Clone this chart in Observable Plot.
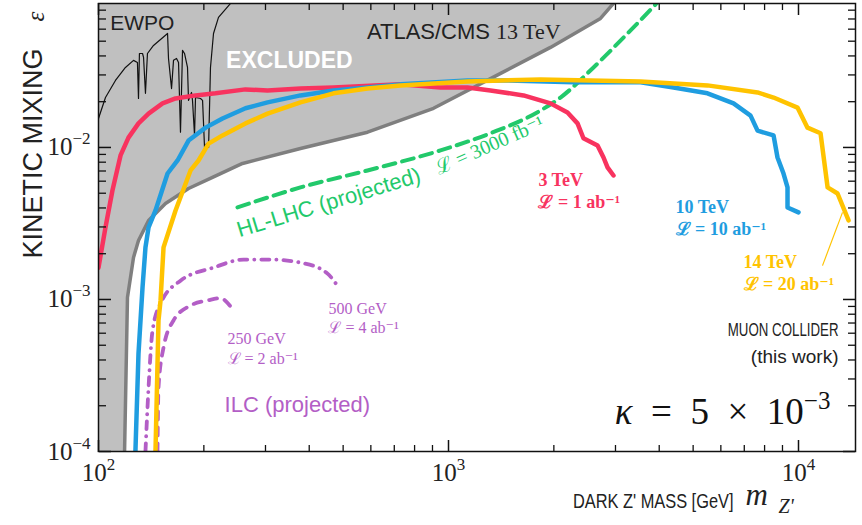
<!DOCTYPE html>
<html><head><meta charset="utf-8">
<script src="https://cdn.jsdelivr.net/npm/d3@7"></script>
<script src="https://cdn.jsdelivr.net/npm/@observablehq/plot@0.6"></script>
<style>body{margin:0;background:#fff} svg{display:block}</style>
</head><body><div id="chart"></div>
<script>
// ---- data (mass in GeV, kinetic mixing epsilon) ----
const xMajorTicks = [100, 1000, 10000];
const xMinorTicks = [200,300,400,500,600,700,800,900,2000,3000,4000,5000,6000,7000,8000,9000];
const yMajorTicks = [1e-4, 1e-3, 1e-2];
const yMinorTicks = [2e-4,3e-4,4e-4,5e-4,6e-4,7e-4,8e-4,9e-4,2e-3,3e-3,4e-3,5e-3,6e-3,7e-3,8e-3,9e-3,2e-2,3e-2,4e-2,5e-2,6e-2,7e-2,8e-2];

const excludedMass = [100, 118.7, 121.0, 125.9, 130.1, 139.0, 155.4, 180.8, 211.7, 257.9, 377.6, 587.0, 906.2, 1409, 1956, 2718, 2961];
const excludedEps  = [1e-4, 1e-4, 0.00103, 0.00189, 0.00244, 0.00331, 0.00428, 0.00537, 0.00635, 0.00785, 0.00985, 0.0126, 0.0181, 0.0307, 0.0455, 0.0706, 0.0886];

const ewpoMass = [100,104.7,111.8,119.4,125.9,129.2,130.1,130.9,133.6,134.5,136.2,138.0,143.6,157.5,158.5,161.7,163.8,167.1,169.3,171.5,173.8,176.1,179.6,180.8,184.4,185.6,188.1,189.3,195.6,198.3,200.9,203.6,206.3,208.9,213.1,220.2,238.4];
const ewpoEps  = [0.0155,0.0213,0.0276,0.0336,0.0374,0.0362,0.0210,0.0415,0.0415,0.0391,0.0227,0.0415,0.0469,0.0562,0.0385,0.0244,0.0374,0.0385,0.0362,0.0126,0.0435,0.0415,0.0336,0.0204,0.0230,0.0204,0.0120,0.0213,0.0210,0.0204,0.0100,0.0106,0.0100,0.0336,0.0562,0.0717,0.0886];

const mu3Mass = [100,104.7,109.6,115.6,121.8,130.1,139.0,152.4,166.0,189.3,215.9,263.0,304.1,377.6,469.4,729.4,948.7,1133,1318,1638,1956,2188,2337,2430,2666,2773,2847,2961];
const mu3Eps  = [0.00162,0.00298,0.00521,0.00886,0.0116,0.0144,0.0167,0.0195,0.0210,0.0220,0.0227,0.0241,0.0237,0.0244,0.0248,0.0260,0.0248,0.0248,0.0237,0.0220,0.0195,0.0170,0.0144,0.0115,0.0103,0.00859,0.00739,0.00654];

const mu10Mass = [127.5,130.1,133.6,136.2,139.0,145.5,157.5,168.2,180.8,202.3,226.1,263.0,304.1,377.6,469.4,587.0,729.4,1133,1474,2276,3538,4395,5495,6522,7294,7638,8486,8710,9061,9303,9303,10000];
const mu10Eps  = [1e-4,0.000441,0.00120,0.00220,0.00298,0.00385,0.00674,0.00821,0.0111,0.0135,0.0155,0.0181,0.0198,0.0220,0.0237,0.0248,0.0260,0.0276,0.0276,0.0268,0.0268,0.0248,0.0227,0.0195,0.0162,0.0129,0.0120,0.00859,0.00674,0.00546,0.00403,0.00374];

const mu14Mass = [145.5,148.4,150.4,153.4,166.0,183.2,193.1,206.3,226.1,263.0,304.1,377.6,469.4,587.0,729.4,1133,1832,3538,5495,7638,8486,9934,10610,11560,12110,12930,13900];
const mu14Eps  = [1e-4,0.000728,0.000985,0.00220,0.00385,0.00706,0.00821,0.0106,0.0120,0.0144,0.0167,0.0198,0.0227,0.0244,0.0256,0.0272,0.0280,0.0272,0.0256,0.0230,0.0213,0.0183,0.0135,0.0124,0.00546,0.00498,0.00331];

const hllhcMass = [249.5,377.6,587.0,948.7,1318,1832,2089,2596,3247,3929];
const hllhcEps  = [0.00403,0.00546,0.00706,0.00956,0.0124,0.0175,0.0213,0.0336,0.0562,0.0886];

const ilc500Mass = [136.2,139.0,142.7,150.4,171.5,213.1,259.6,310.1,385.2,451.2,485.1];
const ilc500Eps  = [1e-4,0.000264,0.000625,0.000941,0.00133,0.00162,0.00183,0.00183,0.00173,0.00148,0.00120];

const ilc250Mass = [147.4,148.4,153.4,163.8,183.2,204.9,223.1,238.4];
const ilc250Eps  = [1e-4,0.000264,0.000483,0.000728,0.000913,0.000985,0.00102,0.000899];

// ---- helpers ----
const rows = (xs, ys) => xs.map((x, i) => ({x, y: ys[i]}));
const yTop = 0.0885;
const SERIF = "'Liberation Serif','DejaVu Serif',serif";
const SANS = "'Liberation Sans',Helvetica,Arial,sans-serif";
const RED = "#f8335f", BLUE = "#1f9de0", YEL = "#ffc300", GRN = "#22c96b", PUR = "#b35ec6";
const note = (text, x, y, o = {}) => Plot.text([{text, x, y}], {x: "x", y: "y", text: "text", ...o});
const sup = (e) => "10^" + Math.round(Math.log10(e));
const bold = {textAnchor: "start", fontSize: 18, fontWeight: "bold", fontFamily: SERIF};
const ilcT = {textAnchor: "start", fontSize: 16, fontFamily: SERIF, fill: PUR};

const chart = Plot.plot({
  width: 862, height: 525,
  marginLeft: 98, marginRight: 7, marginTop: 3, marginBottom: 74,
  x: {type: "log", domain: [100, 14550]},
  y: {type: "log", domain: [1e-4, yTop]},
  style: {background: "white", color: "#111"},
  marks: [
    Plot.areaY(rows(excludedMass, excludedEps), {x: "x", y1: "y", y2: yTop, fill: "#c0c0c0", clip: true}),
    Plot.line(rows(excludedMass, excludedEps).slice(1), {x: "x", y: "y", stroke: "#7f7f7f", strokeWidth: 3.5, clip: true}),
    Plot.line(rows(ewpoMass, ewpoEps), {x: "x", y: "y", stroke: "#111", strokeWidth: 1.2, clip: true}),
    note("EWPO", 108, 0.066, {textAnchor: "start", fontSize: 21, fontFamily: SANS, fill: "#222"}),
    note("EXCLUDED", 351, 0.0373, {fontSize: 23, fontWeight: "bold", fontFamily: SANS, fill: "white"}),
    note("ATLAS/CMS", 1340, 0.0572, {textAnchor: "end", dx: -3, fontSize: 22, fontFamily: SANS, fill: "#222"}),
    note("13 TeV", 1340, 0.0572, {textAnchor: "start", dx: 3, fontSize: 22, fontFamily: SERIF, fill: "#222"}),

    Plot.line(rows(hllhcMass, hllhcEps), {x: "x", y: "y", stroke: GRN, strokeWidth: 4, strokeDasharray: "12,7", curve: "monotone-x", clip: true}),
    note("HL-LHC (projected)", 249.5, 0.00284, {textAnchor: "start", rotate: -17, fontSize: 22, fontFamily: SANS, fill: GRN}),
    note("ℒ = 3000 fb⁻¹", 924, 0.0072, {textAnchor: "start", rotate: -24, fontSize: 20, fontFamily: SERIF, fill: GRN}),

    Plot.line(rows(ilc500Mass, ilc500Eps), {x: "x", y: "y", stroke: PUR, strokeWidth: 3.8, strokeDasharray: "8,7,0.1,7", strokeLinecap: "round", curve: "monotone-x", clip: true}),
    Plot.line(rows(ilc250Mass, ilc250Eps), {x: "x", y: "y", stroke: PUR, strokeWidth: 3.8, strokeDasharray: "8,8", strokeLinecap: "round", curve: "monotone-x", clip: true}),
    note("500 GeV", 454, 0.000870, ilcT),
    note("ℒ = 4 ab⁻¹", 454, 0.000654, ilcT),
    note("250 GeV", 233.7, 0.000553, ilcT),
    note("ℒ = 2 ab⁻¹", 233.7, 0.000409, ilcT),
    note("ILC (projected)", 229.2, 0.000201, {textAnchor: "start", fontSize: 22, fontFamily: SANS, fill: PUR}),

    Plot.line(rows(mu3Mass, mu3Eps), {x: "x", y: "y", stroke: RED, strokeWidth: 4.5, strokeLinejoin: "round", clip: true}),
    Plot.line(rows(mu10Mass, mu10Eps), {x: "x", y: "y", stroke: BLUE, strokeWidth: 4.5, strokeLinejoin: "round", clip: true}),
    Plot.line(rows(mu14Mass, mu14Eps), {x: "x", y: "y", stroke: YEL, strokeWidth: 4.5, strokeLinejoin: "round", clip: true}),
    Plot.link([{x1: 11710, y1: 0.00167, x2: 13360, y2: 0.00374}], {x1: "x1", y1: "y1", x2: "x2", y2: "y2", stroke: YEL, strokeWidth: 1.2}),

    note("3 TeV", 1807, 0.00607, {...bold, fill: RED}),
    note("ℒ = 1 ab⁻¹", 1807, 0.00435, {...bold, fill: RED}),
    note("10 TeV", 4453, 0.00403, {...bold, fill: BLUE}),
    note("ℒ = 10 ab⁻¹", 4453, 0.00289, {...bold, fill: BLUE}),
    note("14 TeV", 6966, 0.00175, {...bold, fill: YEL}),
    note("ℒ = 20 ab⁻¹", 6966, 0.001256, {...bold, fill: YEL}),

    note("MUON COLLIDER", 13010, 0.000630, {textAnchor: "end", fontSize: 19, fontFamily: SANS, fill: "#222"}),
    note("(this work)", 13010, 0.000420, {textAnchor: "end", fontSize: 19, fontFamily: SANS, fill: "#222"}),
    note("κ = 5 × 10^−3", 12340, 0.000181, {textAnchor: "end", fontSize: 37, fontFamily: SERIF, fill: "#111"}),

    // frame and inward ticks on all four sides
    Plot.frame({stroke: "#111", strokeWidth: 1.5}),
    Plot.axisX({anchor: "top", frameAnchor: "bottom", ticks: xMajorTicks, tickSize: 12, tickFormat: () => "", label: null, strokeWidth: 1.5}),
    Plot.axisX({anchor: "top", frameAnchor: "bottom", ticks: xMinorTicks, tickSize: 7, tickFormat: () => "", label: null, strokeWidth: 1.3}),
    Plot.axisX({anchor: "bottom", frameAnchor: "top", ticks: xMajorTicks, tickSize: 12, tickFormat: () => "", label: null, strokeWidth: 1.5}),
    Plot.axisX({anchor: "bottom", frameAnchor: "top", ticks: xMinorTicks, tickSize: 7, tickFormat: () => "", label: null, strokeWidth: 1.3}),
    Plot.axisY({anchor: "right", frameAnchor: "left", ticks: yMajorTicks, tickSize: 12, tickFormat: () => "", label: null, strokeWidth: 1.5}),
    Plot.axisY({anchor: "right", frameAnchor: "left", ticks: yMinorTicks, tickSize: 7, tickFormat: () => "", label: null, strokeWidth: 1.3}),
    Plot.axisY({anchor: "left", frameAnchor: "right", ticks: yMajorTicks, tickSize: 12, tickFormat: () => "", label: null, strokeWidth: 1.5}),
    Plot.axisY({anchor: "left", frameAnchor: "right", ticks: yMinorTicks, tickSize: 7, tickFormat: () => "", label: null, strokeWidth: 1.3}),
    // tick labels
    Plot.axisX({anchor: "bottom", ticks: xMajorTicks, tickSize: 0, tickPadding: 12, tickFormat: sup, label: null, fontSize: 25, fontFamily: SERIF, fill: "#222"}),
    Plot.axisY({anchor: "left", ticks: yMajorTicks, tickSize: 0, tickPadding: 8, tickFormat: sup, label: null, fontSize: 25, fontFamily: SERIF, fill: "#222"}),
    // axis titles
    Plot.text(["KINETIC MIXING"], {frameAnchor: "top-left", rotate: -90, textAnchor: "end", dx: -76, dy: 45, fontSize: 27, fontFamily: SANS, fill: "#222"}),
    Plot.text(["ε"], {frameAnchor: "top-left", rotate: -90, dx: -72, dy: 18, fontSize: 25, fontStyle: "italic", fontFamily: SERIF, fill: "#222"}),
    Plot.text(["DARK Z' MASS [GeV]"], {frameAnchor: "bottom-right", textAnchor: "end", dx: -122, dy: 56, fontSize: 20, fontFamily: SANS, fill: "#222"}),
    Plot.text(["m"], {frameAnchor: "bottom-right", textAnchor: "start", dx: -110, dy: 53, fontSize: 31, fontStyle: "italic", fontFamily: SERIF, fill: "#222"}),
    Plot.text(["Z'"], {frameAnchor: "bottom-right", textAnchor: "start", dx: -77, dy: 61, fontSize: 20, fontStyle: "italic", fontFamily: SERIF, fill: "#222"})
  ]
});

const NS = "http://www.w3.org/2000/svg";
const span = (txt, attrs) => {
  const ts = document.createElementNS(NS, "tspan");
  for (const k in attrs) ts.setAttribute(k, attrs[k]);
  ts.textContent = txt;
  return ts;
};
// superscript exponents on tick labels
chart.querySelectorAll('g[aria-label="x-axis tick label"] text, g[aria-label="y-axis tick label"] text').forEach(t => {
  const m = t.textContent.match(/^10\^(.+)$/);
  if (!m) return;
  t.textContent = "10";
  t.appendChild(span(m[1].replace("-", "−"), {dy: "-11", "font-size": "17"}));
});
// italic kappa with raised exponent; horizontally condensed sans labels as in the reference
const condense = {"MUON COLLIDER": 0.7, "DARK Z' MASS [GeV]": 0.82};
chart.querySelectorAll("text").forEach(t => {
  const s = t.textContent;
  if (s.startsWith("κ")) {
    const [base, exp] = s.slice(1).split("^");
    t.textContent = "";
    t.appendChild(span("κ", {"font-style": "italic"}));
    t.appendChild(span(base.replace(/ /g, "\u2002"), {}));
    t.appendChild(span(exp, {dy: "-15", "font-size": "25"}));
  }
  if (condense[s]) {
    const tr = t.getAttribute("transform") || "";
    t.setAttribute("transform", `${tr} scale(${condense[s]},1)`);
  }
});
document.getElementById("chart").appendChild(chart);
</script>
</body></html>
